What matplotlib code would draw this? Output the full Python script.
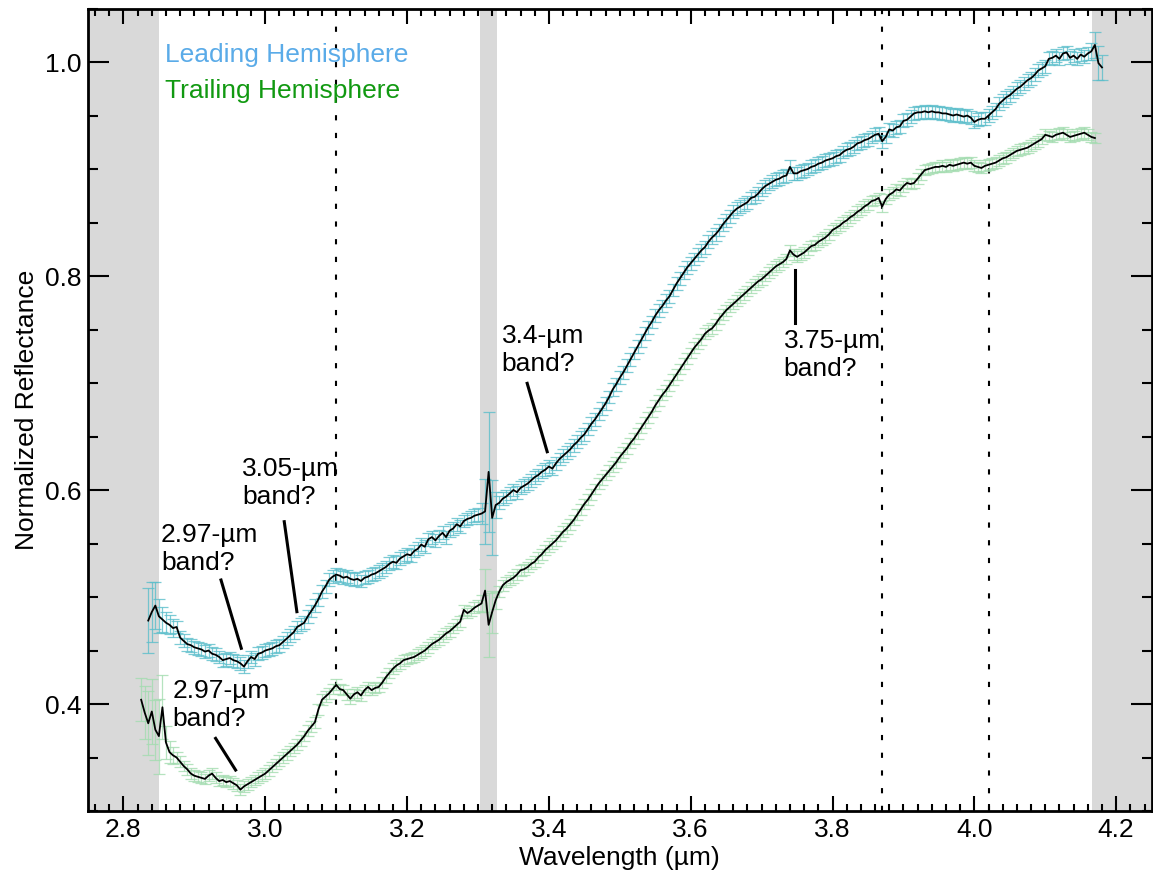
import numpy as np
import matplotlib
matplotlib.use('Agg')
from matplotlib import pyplot as plt
from matplotlib.ticker import MultipleLocator

plt.rcParams['font.family'] = ['Liberation Sans', 'DejaVu Sans']
plt.rcParams['font.size'] = 19

# wavelength grids (um), 0.005 um sampling
wl_lead = np.round(np.arange(2.835, 4.1801, 0.005), 3)
wl_trail = np.round(np.arange(2.825, 4.1701, 0.005), 3)

# leading hemisphere reflectance
refl_lead = [
    0.478, 0.486, 0.492,
    0.482, 0.479, 0.476, 0.474, 0.471, 0.472, 0.462, 0.459, 0.456, 0.455,  # 2.85
    0.453, 0.452, 0.451, 0.449, 0.450, 0.447, 0.446, 0.444, 0.441, 0.442,  # 2.90
    0.443, 0.441, 0.440, 0.438, 0.435, 0.440, 0.444, 0.442, 0.447, 0.448,  # 2.95
    0.450, 0.451, 0.452, 0.454, 0.455, 0.458, 0.461, 0.464, 0.467, 0.472,  # 3.00
    0.474, 0.476, 0.482, 0.487, 0.492, 0.498, 0.505, 0.510, 0.516, 0.519,  # 3.05
    0.521, 0.520, 0.518, 0.519, 0.517, 0.516, 0.517, 0.515, 0.518, 0.519,  # 3.10
    0.521, 0.522, 0.524, 0.526, 0.528, 0.531, 0.533, 0.532, 0.536, 0.538,  # 3.15
    0.540, 0.539, 0.543, 0.545, 0.549, 0.547, 0.554, 0.556, 0.553, 0.557,  # 3.20
    0.560, 0.556, 0.562, 0.564, 0.568, 0.566, 0.571, 0.573, 0.574, 0.576,  # 3.25
    0.577, 0.578, 0.580, 0.617, 0.574, 0.586, 0.588, 0.592, 0.594, 0.597,  # 3.30
    0.600, 0.598, 0.602, 0.604, 0.606, 0.609, 0.612, 0.614, 0.617, 0.619,  # 3.35
    0.622, 0.620, 0.625, 0.629, 0.632, 0.635, 0.638, 0.642, 0.645, 0.649,  # 3.40
    0.652, 0.657, 0.662, 0.666, 0.671, 0.676, 0.681, 0.687, 0.694, 0.699,  # 3.45
    0.705, 0.710, 0.716, 0.722, 0.728, 0.734, 0.740, 0.746, 0.752, 0.757,  # 3.50
    0.763, 0.768, 0.772, 0.777, 0.781, 0.787, 0.793, 0.798, 0.803, 0.808,  # 3.55
    0.812, 0.816, 0.820, 0.824, 0.827, 0.832, 0.836, 0.839, 0.843, 0.848,  # 3.60
    0.852, 0.856, 0.860, 0.863, 0.865, 0.867, 0.869, 0.873, 0.874, 0.877,  # 3.65
    0.881, 0.884, 0.886, 0.888, 0.890, 0.891, 0.893, 0.894, 0.902, 0.896,  # 3.70
    0.896, 0.898, 0.899, 0.900, 0.902, 0.903, 0.905, 0.906, 0.908, 0.909,  # 3.75
    0.910, 0.912, 0.913, 0.916, 0.918, 0.919, 0.921, 0.924, 0.925, 0.927,  # 3.80
    0.928, 0.930, 0.932, 0.933, 0.926, 0.930, 0.937, 0.936, 0.939, 0.940,  # 3.85
    0.945, 0.946, 0.949, 0.952, 0.953, 0.953, 0.954, 0.953, 0.954, 0.953,  # 3.90
    0.953, 0.952, 0.952, 0.951, 0.950, 0.951, 0.950, 0.949, 0.950, 0.948,  # 3.95
    0.944, 0.946, 0.947, 0.947, 0.950, 0.953, 0.956, 0.961, 0.964, 0.967,  # 4.00
    0.969, 0.972, 0.975, 0.977, 0.980, 0.983, 0.985, 0.988, 0.992, 0.994,  # 4.05
    0.996, 1.003, 1.004, 1.006, 1.003, 1.008, 1.009, 1.004, 1.006, 1.003,  # 4.10
    1.007, 1.005, 1.008, 1.010, 1.016, 0.999, 0.995,                        # 4.15
]
err_lead = ([0.030, 0.028, 0.022, 0.016, 0.012, 0.010, 0.009, 0.008]
            + [0.006] * 86
            + [0.010, 0.030, 0.056, 0.035, 0.012]
            + [0.006] * 167
            + [0.008, 0.012, 0.016, 0.012])

# trailing hemisphere reflectance
refl_trail = [
    0.404, 0.392, 0.382, 0.393, 0.376, 0.370, 0.397, 0.364, 0.355, 0.352,  # 2.825
    0.350, 0.346, 0.342, 0.339, 0.335, 0.333, 0.332, 0.331, 0.330, 0.333,  # 2.875
    0.335, 0.331, 0.328, 0.329, 0.327, 0.328, 0.326, 0.324, 0.320, 0.323,  # 2.925
    0.325, 0.327, 0.329, 0.331, 0.333, 0.335, 0.338, 0.341, 0.344, 0.347,  # 2.975
    0.350, 0.353, 0.356, 0.359, 0.362, 0.366, 0.370, 0.375, 0.379, 0.383,  # 3.025
    0.395, 0.404, 0.407, 0.410, 0.414, 0.418, 0.414, 0.413, 0.409, 0.405,  # 3.075
    0.409, 0.411, 0.408, 0.413, 0.416, 0.413, 0.415, 0.416, 0.420, 0.425,  # 3.125
    0.429, 0.433, 0.436, 0.438, 0.441, 0.442, 0.443, 0.444, 0.446, 0.448,  # 3.175
    0.450, 0.453, 0.456, 0.458, 0.460, 0.463, 0.466, 0.468, 0.471, 0.474,  # 3.225
    0.477, 0.488, 0.485, 0.487, 0.490, 0.492, 0.494, 0.506, 0.474, 0.486,  # 3.275
    0.497, 0.505, 0.511, 0.514, 0.516, 0.518, 0.521, 0.525, 0.526, 0.528,  # 3.325
    0.531, 0.533, 0.537, 0.540, 0.544, 0.547, 0.550, 0.553, 0.557, 0.561,  # 3.375
    0.564, 0.568, 0.572, 0.577, 0.582, 0.587, 0.591, 0.596, 0.601, 0.606,  # 3.425
    0.610, 0.614, 0.618, 0.622, 0.626, 0.631, 0.635, 0.639, 0.644, 0.648,  # 3.475
    0.653, 0.658, 0.663, 0.668, 0.673, 0.679, 0.684, 0.689, 0.693, 0.698,  # 3.525
    0.703, 0.708, 0.713, 0.718, 0.723, 0.728, 0.733, 0.737, 0.741, 0.746,  # 3.575
    0.749, 0.751, 0.755, 0.760, 0.764, 0.768, 0.771, 0.774, 0.777, 0.780,  # 3.625
    0.783, 0.786, 0.789, 0.792, 0.795, 0.797, 0.800, 0.803, 0.806, 0.809,  # 3.675
    0.811, 0.813, 0.816, 0.824, 0.820, 0.818, 0.820, 0.822, 0.825, 0.828,  # 3.725
    0.829, 0.832, 0.834, 0.836, 0.839, 0.843, 0.845, 0.847, 0.850, 0.852,  # 3.775
    0.855, 0.857, 0.860, 0.862, 0.865, 0.867, 0.870, 0.871, 0.873, 0.865,  # 3.825
    0.872, 0.876, 0.878, 0.881, 0.880, 0.884, 0.887, 0.886, 0.887, 0.891,  # 3.875
    0.895, 0.899, 0.900, 0.901, 0.902, 0.902, 0.903, 0.902, 0.904, 0.903,  # 3.925
    0.904, 0.905, 0.906, 0.905, 0.906, 0.903, 0.902, 0.901, 0.903, 0.904,  # 3.975
    0.905, 0.906, 0.908, 0.910, 0.911, 0.913, 0.915, 0.917, 0.918, 0.919,  # 4.025
    0.920, 0.922, 0.924, 0.926, 0.928, 0.932, 0.931, 0.930, 0.932, 0.933,  # 4.075
    0.934, 0.932, 0.930, 0.931, 0.932, 0.933, 0.934, 0.932, 0.930, 0.929,  # 4.125
]
err_trail = ([0.020, 0.025, 0.030, 0.030, 0.028, 0.035, 0.030, 0.015, 0.010, 0.008]
             + [0.005] * 86
             + [0.008, 0.020, 0.030, 0.020, 0.008]
             + [0.005] * 169)

# masked regions and band centres
gray_spans = [(2.75, 2.85), (3.303, 3.327), (4.166, 4.25)]
band_lines = [3.10, 3.87, 4.02]

fig = plt.figure(figsize=(11.53, 8.73), dpi=100)
ax = fig.add_axes([0.0763, 0.071, 0.9225, 0.9192])

for lo, hi in gray_spans:
    ax.axvspan(lo, hi, color='#d9d9d9', lw=0, zorder=0)
for x in band_lines:
    ax.axvline(x, color='black', lw=1.5, ls=(0, (2.5, 6)), zorder=1)

ax.errorbar(wl_lead, refl_lead, yerr=err_lead, fmt='none', ecolor='#5bbecb',
            elinewidth=0.9, capsize=4.5, capthick=0.9, alpha=0.8, zorder=2)
ax.errorbar(wl_trail, refl_trail, yerr=err_trail, fmt='none', ecolor='#a3dcb0',
            elinewidth=0.9, capsize=4.5, capthick=0.9, alpha=0.8, zorder=2)
ax.plot(wl_lead, refl_lead, color='black', lw=1.3, zorder=3)
ax.plot(wl_trail, refl_trail, color='black', lw=1.3, zorder=3)

# annotations: (text, text pos, pointer start, pointer end)
notes = [
    ('3.05-µm\nband?', (2.9676, 0.6308), (3.0268, 0.5704), (3.0446, 0.4863)),
    ('2.97-µm\nband?', (2.8531, 0.5694), (2.9376, 0.5159), (2.9662, 0.4521)),
    ('2.97-µm\nband?', (2.8690, 0.4231), (2.9300, 0.3679), (2.9582, 0.3383)),
    ('3.4-µm\nband?', (3.3334, 0.7549), (3.3694, 0.6997), (3.3976, 0.6358)),
    ('3.75-µm\nband?', (3.7310, 0.7502), (3.7475, 0.8056), (3.7475, 0.7558)),
]
for txt, tpos, p0, p1 in notes:
    ax.text(tpos[0], tpos[1], txt, ha='left', va='top', fontsize=19,
            linespacing=1.2, zorder=4)
    ax.plot([p0[0], p1[0]], [p0[1], p1[1]], color='black', lw=2.2, zorder=4)

ax.text(2.8592, 1.0, 'Leading Hemisphere', color='#5aabe8', fontsize=19,
        va='baseline', zorder=4)
ax.text(2.8592, 0.966, 'Trailing Hemisphere', color='#119911', fontsize=19,
        va='baseline', zorder=4)

ax.set_xlim(2.75, 4.25)
ax.set_ylim(0.30, 1.05)
ax.xaxis.set_minor_locator(MultipleLocator(0.02))
ax.yaxis.set_minor_locator(MultipleLocator(0.05))
ax.set_xticks([2.8, 3.0, 3.2, 3.4, 3.6, 3.8, 4.0, 4.2])
ax.set_yticks([0.4, 0.6, 0.8, 1.0])
ax.tick_params(axis='both', which='both', direction='in', top=True, right=True,
               width=1.5, labelsize=19)
ax.tick_params(axis='x', which='major', length=11, pad=5)
ax.tick_params(axis='x', which='minor', length=5)
ax.tick_params(axis='y', which='major', length=15, pad=5)
ax.tick_params(axis='y', which='minor', length=7)
for sp in ax.spines.values():
    sp.set_linewidth(2)

ax.set_xlabel('Wavelength (µm)', fontsize=19, labelpad=3)
ax.set_ylabel('Normalized Reflectance', fontsize=19, labelpad=4)

fig.savefig('out.png', dpi=100)
